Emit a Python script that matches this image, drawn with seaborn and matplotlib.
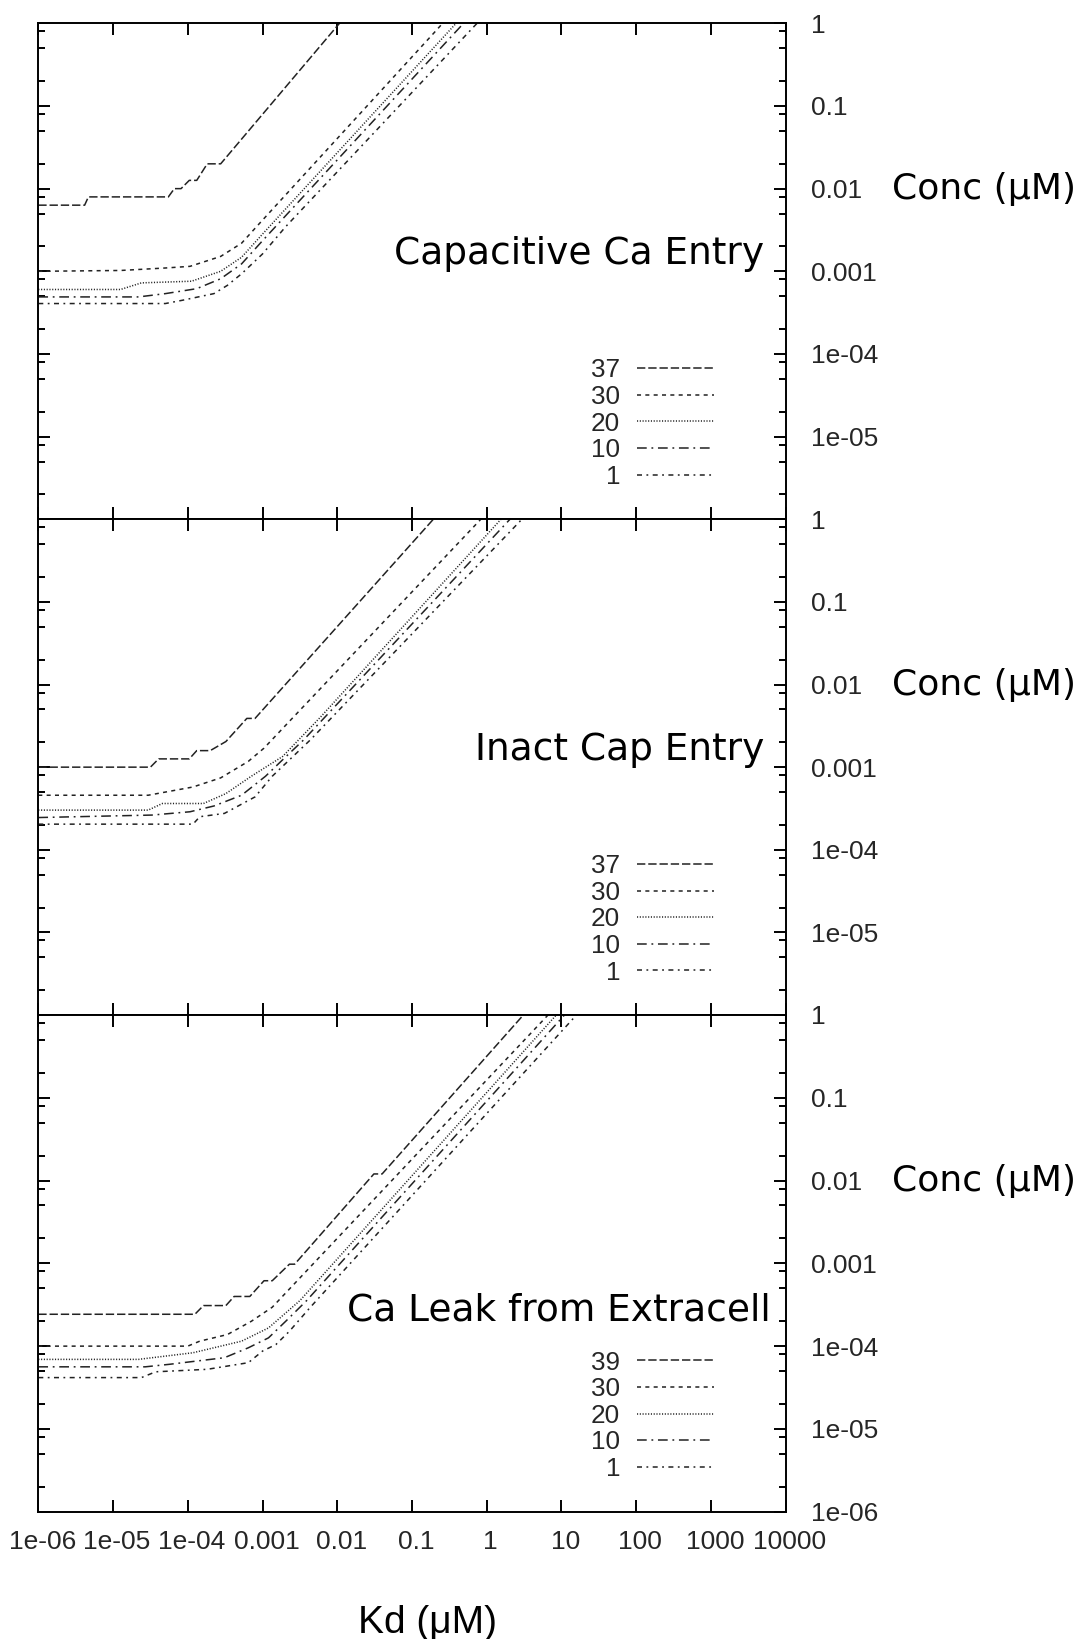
import numpy as np
import pandas as pd
import matplotlib
matplotlib.use("Agg")
import matplotlib.pyplot as plt
import matplotlib.ticker as mticker
import matplotlib.transforms as mtransforms
import seaborn as sns

# ---------------- data (log10 values) ----------------
# Panel 1: Capacitive Ca Entry
cap_37_lkd = [-6, -5.38, -5.33, -4.26, -4.18, -4.09, -3.98, -3.88, -3.74, -3.56, -1.97, -1.5]
cap_37_lc = [-2.20, -2.20, -2.10, -2.10, -2.00, -2.00, -1.90, -1.90, -1.70, -1.70, 0.0, 0.47]
cap_30_lkd = [-6, -4.9, -4.3, -3.97, -3.56, -3.28, -3.08, -0.71, -0.3]
cap_30_lc = [-3.0, -2.99, -2.96, -2.94, -2.82, -2.66, -2.46, -0.12, 0.29]
cap_20_lkd = [-6, -4.9, -4.62, -3.95, -3.56, -3.28, -3.0, -0.41, -0.1]
cap_20_lc = [-3.22, -3.22, -3.14, -3.12, -3.0, -2.83, -2.55, 0.0, 0.31]
cap_10_lkd = [-6, -4.66, -4.3, -3.88, -3.56, -3.28, -3.0, -0.31, 0.0]
cap_10_lc = [-3.31, -3.31, -3.27, -3.21, -3.09, -2.91, -2.63, 0.0, 0.31]
cap_1_lkd = [-6, -4.3, -4.07, -3.65, -3.47, -3.28, -3.0, -2.69, -0.13, 0.2]
cap_1_lc = [-3.39, -3.39, -3.35, -3.27, -3.17, -3.03, -2.79, -2.46, 0.0, 0.33]

# Panel 2: Inact Cap Entry
ina_37_lkd = [-6, -4.50, -4.39, -3.98, -3.88, -3.70, -3.49, -3.21, -3.10, -0.715, -0.4]
ina_37_lc = [-3.0, -3.0, -2.90, -2.90, -2.80, -2.80, -2.69, -2.41, -2.41, 0.0, 0.31]
ina_30_lkd = [-6, -4.53, -3.93, -3.56, -3.19, -2.98, -0.08, 0.2]
ina_30_lc = [-3.34, -3.34, -3.24, -3.13, -2.93, -2.77, 0.0, 0.27]
ina_20_lkd = [-6, -4.53, -4.34, -3.79, -3.49, -3.15, -2.87, -2.73, -2.22, 0.19, 0.5]
ina_20_lc = [-3.52, -3.52, -3.44, -3.44, -3.32, -3.11, -2.95, -2.87, -2.39, 0.0, 0.31]
ina_10_lkd = [-6, -4.48, -3.97, -3.65, -3.28, -2.96, -2.73, -2.45, 0.31, 0.6]
ina_10_lc = [-3.61, -3.58, -3.54, -3.47, -3.34, -3.11, -2.91, -2.67, 0.0, 0.29]
ina_1_lkd = [-6, -3.93, -3.84, -3.51, -3.10, -2.87, -2.36, 0.47, 0.8]
ina_1_lc = [-3.69, -3.69, -3.60, -3.56, -3.36, -3.11, -2.67, 0.0, 0.31]

# Panel 3: Ca Leak from Extracell
leak_39_lkd = [-6, -3.905, -3.79, -3.49, -3.38, -3.17, -2.98, -2.87, -2.64, -2.57, -1.51, -1.40, 0.49, 0.8]
leak_39_lc = [-3.615, -3.615, -3.51, -3.51, -3.40, -3.40, -3.21, -3.21, -3.01, -3.01, -1.92, -1.92, 0.0, 0.31]
leak_30_lkd = [-6, -4.0, -3.84, -3.47, -3.15, -2.87, 0.82, 1.12]
leak_30_lc = [-4.0, -4.0, -3.94, -3.86, -3.70, -3.53, 0.0, 0.3]
leak_20_lkd = [-6, -4.66, -3.93, -3.28, -2.92, -2.50, 0.93, 1.23]
leak_20_lc = [-4.16, -4.16, -4.08, -3.94, -3.78, -3.45, 0.0, 0.3]
leak_10_lkd = [-6, -4.57, -4.25, -3.51, -3.19, -2.92, -2.69, -2.41, 1.04, 1.34]
leak_10_lc = [-4.25, -4.25, -4.22, -4.14, -4.02, -3.90, -3.70, -3.45, 0.0, 0.3]
leak_1_lkd = [-6, -4.62, -4.43, -3.74, -3.19, -3.0, -2.82, -2.64, -2.36, 1.2, 1.5]
leak_1_lc = [-4.38, -4.38, -4.31, -4.28, -4.20, -4.06, -3.98, -3.82, -3.53, 0.0, 0.3]

panel_titles = ["Capacitive Ca Entry", "Inact Cap Entry", "Ca Leak from Extracell"]
panel_labels = [["37", "30", "20", "10", "1"],
                ["37", "30", "20", "10", "1"],
                ["39", "30", "20", "10", "1"]]
panel_series = [
    [(cap_37_lkd, cap_37_lc), (cap_30_lkd, cap_30_lc), (cap_20_lkd, cap_20_lc),
     (cap_10_lkd, cap_10_lc), (cap_1_lkd, cap_1_lc)],
    [(ina_37_lkd, ina_37_lc), (ina_30_lkd, ina_30_lc), (ina_20_lkd, ina_20_lc),
     (ina_10_lkd, ina_10_lc), (ina_1_lkd, ina_1_lc)],
    [(leak_39_lkd, leak_39_lc), (leak_30_lkd, leak_30_lc), (leak_20_lkd, leak_20_lc),
     (leak_10_lkd, leak_10_lc), (leak_1_lkd, leak_1_lc)],
]

x_ticks = [1e-6, 1e-5, 1e-4, 1e-3, 1e-2, 1e-1, 1, 10, 100, 1000, 10000]
x_ticklabels = ["1e-06", "1e-05", "1e-04", "0.001", "0.01", "0.1", "1", "10", "100", "1000", "10000"]
y_ticks = [1e-6, 1e-5, 1e-4, 1e-3, 1e-2, 1e-1, 1]
y_ticklabels = ["1e-06", "1e-05", "1e-04", "0.001", "0.01", "0.1", "1"]

# ---------------- styling ----------------
sns.set_theme(style="white")
plt.rcParams['font.family'] = ['Liberation Sans', 'DejaVu Sans']
plt.rcParams['lines.scale_dashes'] = False

line_styles = [
    (0, (6.0, 2.1)),             # long dash
    (0, (2.9, 3.1)),             # short dash
    (0, (0.8, 1.2)),             # dotted
    (0, (7.0, 3.4, 1.3, 3.4)),   # dash-dot
    (0, (3.6, 3.2, 1.3, 3.2)),   # short dash-dot
]
LINE_COLOR = "#222222"

W, H = 1080, 1639
fig = plt.figure(figsize=(W / 100, H / 100), dpi=100)

ax_left = 38.3
ax_right = 785.7
panel_edges = [(23.3, 519.3), (519.3, 1015.0), (1015.0, 1511.7)]
title_pos = [(0.971, 0.514), (0.971, 0.514), (0.980, 0.384)]
xlabel_shift = mtransforms.ScaledTranslation(4 / 100, 0, fig.dpi_scale_trans)

for i, (top, bot) in enumerate(panel_edges):
    ax = fig.add_axes([ax_left / W, 1 - bot / H, (ax_right - ax_left) / W, (bot - top) / H])
    handles = []
    for (lkd, lc), ls, lab in zip(panel_series[i], line_styles, panel_labels[i]):
        df = pd.DataFrame({"Kd": 10 ** np.array(lkd, dtype=float),
                           "Conc": 10 ** np.array(lc, dtype=float)})
        sns.lineplot(data=df, x="Kd", y="Conc", ax=ax, color=LINE_COLOR, linewidth=1.1,
                     linestyle=ls, estimator=None, sort=False, errorbar=None, legend=False)
        ln = ax.lines[-1]
        ln.set_label(lab)
        handles.append(ln)

    ax.set_xscale("log")
    ax.set_yscale("log")
    ax.set_xlim(1e-6, 1e4)
    ax.set_ylim(1e-6, 1)
    ax.set_xlabel("")
    ax.set_ylabel("")

    ax.xaxis.set_major_locator(mticker.FixedLocator(x_ticks))
    ax.xaxis.set_minor_locator(mticker.NullLocator())
    ax.yaxis.set_major_locator(mticker.FixedLocator(y_ticks))
    ax.yaxis.set_minor_locator(mticker.LogLocator(base=10, subs=(2.0, 5.0, 8.0), numticks=100))
    ax.yaxis.set_minor_formatter(mticker.NullFormatter())

    ax.set_xticklabels(x_ticklabels)
    ylabs = list(y_ticklabels)
    if i < 2:
        ylabs[0] = ""
    ax.set_yticklabels(ylabs)

    ax.tick_params(axis="both", which="both", direction="in", top=True, bottom=True,
                   left=True, right=True, labelleft=False, labelright=True,
                   labelbottom=(i == 2), width=1.4, color="black")
    ax.tick_params(axis="both", which="major", length=8.6)
    ax.tick_params(axis="both", which="minor", length=5.0)
    ax.tick_params(axis="y", which="major", pad=18, labelsize=19)
    ax.tick_params(axis="x", which="major", pad=13, labelsize=19)
    for t in ax.get_xticklabels() + ax.get_yticklabels():
        t.set_fontfamily("Liberation Sans")
    for t in ax.get_xticklabels():
        t.set_transform(t.get_transform() + xlabel_shift)

    for s in ax.spines.values():
        s.set_linewidth(1.4)
        s.set_color("black")
    ax.grid(False)
    ax.set_facecolor("white")

    tx, ty = title_pos[i]
    ax.text(tx, ty, panel_titles[i], transform=ax.transAxes, ha="right", va="baseline",
            fontsize=27, family="DejaVu Sans", color="black")

    trans = mtransforms.blended_transform_factory(ax.transAxes, ax.transData)
    ax.text(1.142, 0.01, "Conc (μM)", transform=trans, ha="left", va="center",
            fontsize=26, family="DejaVu Sans", color="black")

    ax.legend(handles=handles, labels=panel_labels[i], loc="center right",
              bbox_to_anchor=(0.904, 0.193), frameon=False, markerfirst=False,
              handlelength=2.95, handletextpad=0.64, labelspacing=0.1,
              borderpad=0, borderaxespad=0,
              prop={"family": "Liberation Sans", "size": 18.8})

fig.text(427 / W, 1 - 1633 / H, "Kd (μM)", ha="center", va="baseline",
         fontsize=28, family="Liberation Sans", color="black")

fig.savefig("out.png", dpi=100, facecolor="white")
